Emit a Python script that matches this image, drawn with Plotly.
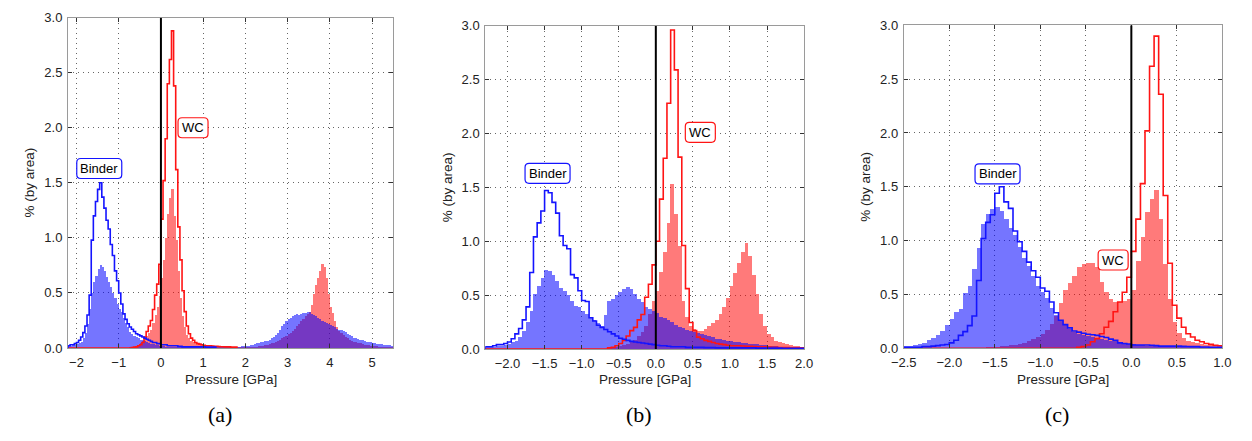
import numpy as np
import plotly.graph_objects as go

BIN_W = 0.05  # GPa, histogram bin width

# ---------------- panel (a) ----------------
A_START = -2.2
A_XRANGE = [-2.2, 5.5]
A_XTICKS = [-2, -1, 0, 1, 2, 3, 4, 5]
a_binder_line = [
    0.02, 0.03, 0.03, 0.04, 0.05, 0.07, 0.10, 0.14, 0.20, 0.30,
    0.48, 0.98, 1.20, 1.33, 1.44, 1.50, 1.37, 1.27, 1.16, 1.08,
    0.94, 0.84, 0.70, 0.61, 0.50, 0.40, 0.31, 0.26, 0.22, 0.19,
    0.17, 0.15, 0.13, 0.12, 0.11, 0.10, 0.09, 0.08, 0.07, 0.06,
    0.05, 0.05, 0.04, 0.04, 0.03, 0.03, 0.03, 0.02, 0.02, 0.02,
    0.02, 0.02, 0.015, 0.015, 0.01, 0.01, 0.01, 0.01, 0.01, 0.01,
    0.01, 0.01, 0.01, 0.01, 0.01, 0.008, 0.008, 0.008, 0.008, 0.008]
a_binder_fill = [
    0.02, 0.02, 0.03, 0.03, 0.04, 0.05, 0.06, 0.09, 0.14, 0.22,
    0.36, 0.50, 0.60, 0.66, 0.72, 0.76, 0.74, 0.70, 0.65, 0.60,
    0.56, 0.50, 0.46, 0.40, 0.36, 0.33, 0.28, 0.23, 0.19, 0.15,
    0.13, 0.11, 0.10, 0.09, 0.08, 0.08, 0.07, 0.06, 0.05, 0.04,
    0.04, 0.03, 0.03, 0.02, 0.02, 0.02, 0.015, 0.015, 0.01, 0.01,
    0.01, 0.01, 0.01, 0.01, 0.01, 0.008, 0.008, 0.008, 0.008, 0.008,
    0.008, 0.008, 0.008, 0.008, 0.008, 0.008, 0.008, 0.008, 0.008, 0.008,
    0.008, 0.008, 0.01, 0.01, 0.01, 0.01, 0.01, 0.012, 0.012, 0.015,
    0.015, 0.015, 0.018, 0.018, 0.02, 0.025, 0.03, 0.035, 0.04, 0.045,
    0.05, 0.055, 0.06, 0.065, 0.07, 0.08, 0.09, 0.10, 0.12, 0.14,
    0.17, 0.20, 0.22, 0.25, 0.27, 0.28, 0.29, 0.30, 0.31, 0.30,
    0.31, 0.32, 0.32, 0.33, 0.33, 0.31, 0.30, 0.29, 0.28, 0.27,
    0.25, 0.24, 0.23, 0.22, 0.21, 0.20, 0.19, 0.18, 0.17, 0.165,
    0.155, 0.15, 0.135, 0.12, 0.11, 0.095, 0.09, 0.085, 0.078, 0.072,
    0.067, 0.062, 0.058, 0.055, 0.05, 0.047, 0.043, 0.04, 0.038, 0.035,
    0.033, 0.03, 0.028, 0.026]
a_wc_line = [
    0, 0, 0, 0, 0, 0, 0, 0, 0, 0,
    0, 0, 0, 0, 0, 0, 0, 0, 0, 0,
    0, 0, 0, 0, 0, 0, 0, 0, 0, 0,
    0.005, 0.008, 0.01, 0.02, 0.03, 0.05, 0.10, 0.15, 0.20, 0.25,
    0.35, 0.48, 0.58, 0.76, 1.17, 1.52, 1.90, 2.40, 2.62, 2.88,
    2.38, 1.62, 1.10, 0.80, 0.52, 0.33, 0.20, 0.13, 0.09, 0.07,
    0.05, 0.04, 0.035, 0.03, 0.025, 0.02, 0.02, 0.02, 0.018, 0.016,
    0.015, 0.014, 0.012, 0.012, 0.01, 0.01, 0.01, 0.008, 0.008, 0.008]
a_wc_fill = [
    0, 0, 0, 0, 0, 0, 0, 0, 0, 0,
    0, 0, 0, 0, 0, 0, 0, 0, 0, 0,
    0, 0, 0, 0, 0, 0, 0, 0, 0.005, 0.01,
    0.012, 0.015, 0.02, 0.03, 0.05, 0.07, 0.09, 0.11, 0.14, 0.17,
    0.23, 0.30, 0.38, 0.48, 0.64, 0.80, 1.00, 1.22, 1.37, 1.45,
    1.20, 0.98, 0.70, 0.46, 0.29, 0.19, 0.12, 0.09, 0.07, 0.06,
    0.05, 0.04, 0.035, 0.03, 0.025, 0.02, 0.02, 0.02, 0.018, 0.016,
    0.015, 0.014, 0.013, 0.012, 0.011, 0.01, 0.01, 0.01, 0.01, 0.01,
    0.01, 0.01, 0.01, 0.01, 0.01, 0.01, 0.01, 0.012, 0.014, 0.016,
    0.018, 0.02, 0.025, 0.03, 0.035, 0.04, 0.045, 0.05, 0.06, 0.07,
    0.08, 0.09, 0.10, 0.11, 0.13, 0.14, 0.16, 0.18, 0.20, 0.22,
    0.25, 0.27, 0.29, 0.31, 0.33, 0.39, 0.49, 0.58, 0.64, 0.70,
    0.77, 0.74, 0.64, 0.49, 0.38, 0.32, 0.25, 0.19, 0.16, 0.14,
    0.12, 0.10, 0.09, 0.08, 0.07, 0.06, 0.055, 0.05, 0.045, 0.04,
    0.035, 0.03, 0.028, 0.025, 0.022, 0.02, 0.018, 0.016, 0.014, 0.012,
    0.011, 0.01, 0.009, 0.008]

# ---------------- panel (b) ----------------
B_START = -2.3
B_XRANGE = [-2.3, 2.0]
B_XTICKS = [-2.0, -1.5, -1.0, -0.5, 0.0, 0.5, 1.0, 1.5, 2.0]
b_binder_line = [
    0.02, 0.02, 0.03, 0.04, 0.04, 0.05, 0.065, 0.095, 0.14, 0.19,
    0.27, 0.39, 0.71, 1.04, 1.17, 1.28, 1.47, 1.45, 1.36, 1.26,
    1.05, 0.96, 0.93, 0.69, 0.66, 0.54, 0.45, 0.44, 0.29, 0.26,
    0.22, 0.20, 0.18, 0.16, 0.14, 0.12, 0.10, 0.09, 0.08, 0.07,
    0.065, 0.06, 0.055, 0.05, 0.045, 0.04, 0.035, 0.03, 0.03, 0.025,
    0.02, 0.02, 0.02, 0.02, 0.015, 0.015, 0.015, 0.015, 0.015, 0.012,
    0.012, 0.012, 0.01, 0.01, 0.01, 0.01, 0.01, 0.01, 0.01, 0.01,
    0.01, 0.01, 0.01, 0.008, 0.008, 0.008, 0.008, 0.008, 0.008, 0.008,
    0.006, 0.006, 0.006, 0.006, 0.006, 0.006]
b_binder_fill = [
    0.02, 0.02, 0.025, 0.03, 0.035, 0.04, 0.05, 0.065, 0.08, 0.11,
    0.17, 0.25, 0.36, 0.51, 0.59, 0.66, 0.74, 0.73, 0.69, 0.63,
    0.57, 0.54, 0.50, 0.45, 0.40, 0.39, 0.36, 0.33, 0.30, 0.27,
    0.245, 0.22, 0.32, 0.45, 0.47, 0.50, 0.53, 0.56, 0.58, 0.56,
    0.51, 0.47, 0.44, 0.39, 0.37, 0.36, 0.34, 0.30, 0.29, 0.27,
    0.25, 0.23, 0.21, 0.20, 0.18, 0.17, 0.16, 0.15, 0.14, 0.13,
    0.12, 0.11, 0.10, 0.095, 0.09, 0.08, 0.075, 0.07, 0.065, 0.06,
    0.055, 0.05, 0.05, 0.045, 0.04, 0.04, 0.035, 0.03, 0.03, 0.025,
    0.025, 0.02, 0.02, 0.02, 0.015, 0.015]
b_wc_line = [
    0, 0, 0, 0, 0, 0, 0, 0, 0, 0,
    0, 0, 0, 0, 0, 0, 0, 0, 0, 0,
    0, 0, 0, 0, 0, 0, 0, 0, 0, 0,
    0, 0, 0, 0.01, 0.015, 0.03, 0.05, 0.08, 0.12, 0.17,
    0.20, 0.27, 0.32, 0.48, 0.60, 0.78, 1.00, 1.39, 1.77, 2.28,
    2.96, 2.59, 1.78, 0.96, 0.56, 0.245, 0.17, 0.11, 0.095, 0.08,
    0.07, 0.06, 0.05, 0.045, 0.04, 0.035, 0.03, 0.03, 0.03, 0.028,
    0.025, 0.025, 0.022, 0.02, 0.02, 0.02, 0.018, 0.016, 0.015, 0.014,
    0.012, 0.012, 0.01, 0.01, 0.01, 0.01]
b_wc_fill = [
    0, 0, 0, 0, 0, 0, 0, 0, 0, 0,
    0, 0, 0, 0, 0, 0, 0, 0, 0, 0,
    0, 0, 0, 0, 0, 0, 0, 0, 0, 0,
    0, 0, 0, 0.01, 0.015, 0.02, 0.03, 0.04, 0.05, 0.07,
    0.09, 0.12, 0.16, 0.22, 0.33, 0.45, 0.54, 0.72, 0.90, 1.17,
    1.53, 1.26, 0.96, 0.45, 0.30, 0.215, 0.185, 0.17, 0.17, 0.185,
    0.215, 0.245, 0.275, 0.33, 0.39, 0.48, 0.59, 0.71, 0.80, 0.90,
    0.99, 0.87, 0.69, 0.51, 0.33, 0.215, 0.14, 0.11, 0.08, 0.065,
    0.057, 0.045, 0.04, 0.035, 0.03, 0.025]

# ---------------- panel (c) ----------------
C_START = -2.5
C_XRANGE = [-2.5, 1.0]
C_XTICKS = [-2.5, -2.0, -1.5, -1.0, -0.5, 0.0, 0.5, 1.0]
c_binder_line = [
    0.01, 0.01, 0.01, 0.01, 0.015, 0.015, 0.02, 0.025, 0.03, 0.035,
    0.05, 0.075, 0.12, 0.155, 0.21, 0.30, 0.63, 1.02, 1.17, 1.24,
    1.44, 1.50, 1.36, 1.30, 1.09, 0.99, 0.90, 0.80, 0.72, 0.66,
    0.56, 0.53, 0.43, 0.33, 0.26, 0.22, 0.19, 0.16, 0.15, 0.14,
    0.13, 0.125, 0.12, 0.11, 0.10, 0.085, 0.075, 0.05, 0.045, 0.04,
    0.03, 0.03, 0.03, 0.03, 0.028, 0.025, 0.02, 0.02, 0.02, 0.02,
    0.02, 0.018, 0.016, 0.015, 0.015, 0.012, 0.012, 0.01, 0.01, 0.01]
c_binder_fill = [
    0.015, 0.02, 0.03, 0.035, 0.05, 0.07, 0.095, 0.12, 0.155, 0.21,
    0.27, 0.33, 0.365, 0.51, 0.58, 0.73, 0.93, 1.15, 1.24, 1.29,
    1.31, 1.27, 1.20, 1.11, 1.05, 0.94, 0.84, 0.76, 0.67, 0.58,
    0.52, 0.46, 0.37, 0.31, 0.25, 0.21, 0.18, 0.15, 0.13, 0.12,
    0.11, 0.10, 0.09, 0.085, 0.07, 0.065, 0.06, 0.05, 0.045, 0.04,
    0.035, 0.03, 0.025, 0.02, 0.02, 0.018, 0.015, 0.013, 0.012, 0.01,
    0.01, 0.009, 0.008, 0.008, 0.007, 0.006, 0.006, 0.005, 0.005, 0.005]
c_wc_line = [
    0, 0, 0, 0, 0, 0, 0, 0, 0, 0,
    0, 0, 0, 0, 0, 0, 0, 0, 0, 0,
    0, 0, 0, 0, 0, 0, 0, 0, 0, 0,
    0, 0, 0, 0, 0, 0, 0, 0, 0.01, 0.015,
    0.03, 0.06, 0.09, 0.135, 0.195, 0.25, 0.34, 0.43, 0.52, 0.66,
    0.90, 1.20, 1.53, 2.02, 2.62, 2.90, 2.36, 1.42, 0.79, 0.40,
    0.28, 0.195, 0.135, 0.105, 0.075, 0.06, 0.045, 0.036, 0.028, 0.024]
c_wc_fill = [
    0, 0, 0, 0, 0, 0, 0, 0, 0, 0,
    0, 0, 0, 0, 0, 0, 0, 0, 0.005, 0.008,
    0.01, 0.015, 0.02, 0.025, 0.03, 0.04, 0.05, 0.06, 0.08, 0.10,
    0.13, 0.17, 0.22, 0.30, 0.42, 0.54, 0.60, 0.67, 0.75, 0.78,
    0.79, 0.79, 0.75, 0.61, 0.52, 0.45, 0.43, 0.425, 0.44, 0.45,
    0.54, 0.81, 1.03, 1.26, 1.38, 1.47, 1.20, 0.78, 0.45, 0.24,
    0.135, 0.09, 0.066, 0.054, 0.045, 0.036, 0.03, 0.024, 0.02, 0.015]

Y_TICKS = [0.0, 0.5, 1.0, 1.5, 2.0, 2.5, 3.0]
Y_RANGE = [0, 3.0]

# ---------------- styling / layout ----------------
W, H = 1252, 441
BLUE_FILL = "rgba(0,0,255,0.54)"
RED_FILL = "rgba(255,0,0,0.52)"
BLUE_LINE = "rgb(20,20,255)"
RED_LINE = "rgb(255,20,20)"
FONT = "Liberation Sans, Arial, sans-serif"

panels = [
    dict(start=A_START, xr=A_XRANGE, xt=A_XTICKS, fmt="d",
         bf=a_binder_fill, bl=a_binder_line, wf=a_wc_fill, wl=a_wc_line,
         px=(56, 387), py=(11, 353),
         binder=(-1.46, 1.63), wc=(0.76, 2.0), label="(a)", lx=211,
         ytx=17),
    dict(start=B_START, xr=B_XRANGE, xt=B_XTICKS, fmt=".1f",
         bf=b_binder_fill, bl=b_binder_line, wf=b_wc_fill, wl=b_wc_line,
         px=(480.7, 805.3), py=(19.3, 354),
         binder=(-1.46, 1.63), wc=(0.60, 2.01), label="(b)", lx=637,
         ytx=441.7),
    dict(start=C_START, xr=C_XRANGE, xt=C_XTICKS, fmt=".1f",
         bf=c_binder_fill, bl=c_binder_line, wf=c_wc_fill, wl=c_wc_line,
         px=(906.7, 1231), py=(19, 353.3),
         binder=(-1.47, 1.62), wc=(-0.20, 0.82), label="(c)", lx=1063,
         ytx=868.3),
]


def centers(start, vals):
    return start + BIN_W * (np.arange(len(vals)) + 0.5)


def step_xy(start, vals):
    n = len(vals)
    edges = start + BIN_W * np.arange(n + 1)
    xs = np.concatenate([[edges[0]], edges[:-1], [edges[-1]]])
    ys = np.concatenate([[0.0], np.asarray(vals, float), [0.0]])
    return xs, ys


def rounded_box(w, h, r=4):
    a, b = w / 2, h / 2
    return (f"M {-a + r},{-b} L {a - r},{-b} Q {a},{-b} {a},{-b + r} "
            f"L {a},{b - r} Q {a},{b} {a - r},{b} L {-a + r},{b} "
            f"Q {-a},{b} {-a},{b - r} L {-a},{-b + r} Q {-a},{-b} {-a + r},{-b} Z")


fig = go.Figure()
annotations = []
shapes = []

for k, p in enumerate(panels, start=1):
    xa = "x" if k == 1 else f"x{k}"
    ya = "y" if k == 1 else f"y{k}"
    # filled histograms (WC underneath, binder on top)
    fig.add_trace(go.Bar(x=centers(p["start"], p["wf"]), y=p["wf"], width=BIN_W,
                         marker=dict(color=RED_FILL, line=dict(width=0)),
                         xaxis=xa, yaxis=ya, hoverinfo="skip"))
    fig.add_trace(go.Bar(x=centers(p["start"], p["bf"]), y=p["bf"], width=BIN_W,
                         marker=dict(color=BLUE_FILL, line=dict(width=0)),
                         xaxis=xa, yaxis=ya, hoverinfo="skip"))
    # outline histograms
    xs, ys = step_xy(p["start"], p["wl"])
    fig.add_trace(go.Scatter(x=xs, y=ys, mode="lines", line=dict(color=RED_LINE, width=1.6, shape="hv"),
                             xaxis=xa, yaxis=ya, hoverinfo="skip"))
    xs, ys = step_xy(p["start"], p["bl"])
    fig.add_trace(go.Scatter(x=xs, y=ys, mode="lines", line=dict(color=BLUE_LINE, width=1.6, shape="hv"),
                             xaxis=xa, yaxis=ya, hoverinfo="skip"))

    x0, x1 = p["px"]
    ytop, ybot = p["py"]
    axis_common = dict(
        showline=True, linecolor="#9a9a9a", linewidth=1, mirror="ticks",
        ticks="inside", ticklen=4, tickwidth=1, tickcolor="#333",
        showgrid=True, gridcolor="#666", gridwidth=1, griddash="1px,4px",
        zeroline=False, tickfont=dict(family=FONT, size=13, color="#222"),
        fixedrange=True,
    )
    fig.update_layout({
        ("xaxis" if k == 1 else f"xaxis{k}"): dict(
            domain=[x0 / W, x1 / W], anchor=ya, range=p["xr"],
            tickmode="array", tickvals=p["xt"], tickformat=p["fmt"],
            ticklabelstandoff=2, **axis_common),
        ("yaxis" if k == 1 else f"yaxis{k}"): dict(
            domain=[1 - ybot / H, 1 - ytop / H], anchor=xa, range=Y_RANGE,
            tickmode="array", tickvals=Y_TICKS, tickformat=".1f",
            ticklabelstandoff=2, **axis_common),
    })

    # vertical zero line
    shapes.append(dict(type="line", xref=xa, yref=ya, x0=0, x1=0, y0=0, y1=3,
                       line=dict(color="black", width=2), layer="above"))

    # labels in rounded boxes
    for (lx, ly), txt, col, bw in ((p["binder"], "Binder", BLUE_LINE, 45),
                                   (p["wc"], "WC", RED_LINE, 30)):
        shapes.append(dict(type="path", xref=xa, yref=ya, xsizemode="pixel", ysizemode="pixel",
                           xanchor=lx, yanchor=ly, path=rounded_box(bw, 20),
                           fillcolor="white", line=dict(color=col, width=1.2), layer="above"))
        annotations.append(dict(xref=xa, yref=ya, x=lx, y=ly, text=txt,
                                showarrow=False, xanchor="center", yanchor="middle",
                                font=dict(family=FONT, size=13, color="black")))
    # axis titles
    annotations.append(dict(xref="paper", yref="paper", x=(x0 + x1) / 2 / W, y=1 - 386 / H,
                            text="Pressure [GPa]", showarrow=False, xanchor="center", yanchor="middle",
                            font=dict(family=FONT, size=13.5, color="#222")))
    annotations.append(dict(xref="paper", yref="paper", x=p["ytx"] / W, y=1 - (ytop + ybot) / 2 / H,
                            text="% (by area)", showarrow=False, textangle=-90,
                            xanchor="center", yanchor="middle",
                            font=dict(family=FONT, size=13.5, color="#222")))
    # panel label
    annotations.append(dict(xref="paper", yref="paper", x=p["lx"] / W, y=1 - 422 / H,
                            text=p["label"], showarrow=False, xanchor="center", yanchor="middle",
                            font=dict(family="Liberation Serif, Times New Roman, serif", size=22, color="black")))

fig.update_layout(
    width=W, height=H, margin=dict(l=0, r=0, t=0, b=0),
    paper_bgcolor="white", plot_bgcolor="white",
    barmode="overlay", bargap=0, showlegend=False,
    annotations=annotations, shapes=shapes,
)

fig.write_html("out.html")
